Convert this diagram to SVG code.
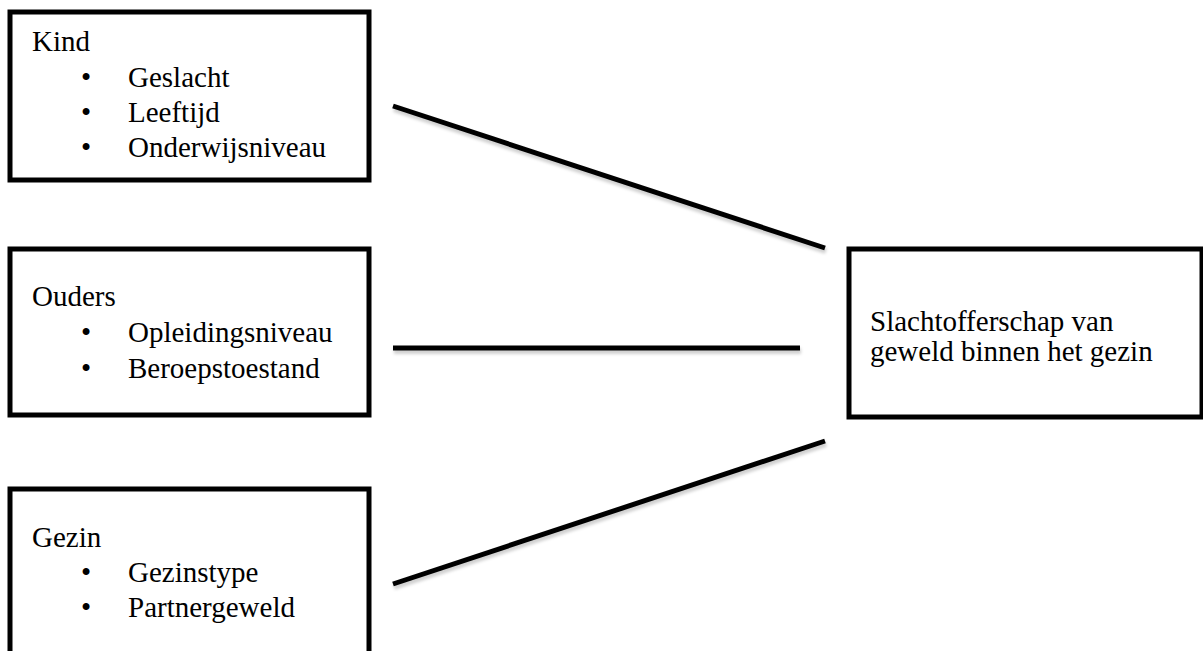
<svg xmlns="http://www.w3.org/2000/svg" width="1203" height="651" viewBox="0 0 1203 651">
<style>
.box{fill:#fff;stroke:#000;stroke-width:5}
.t{font-family:"Liberation Serif","Times New Roman",serif;font-size:29px;fill:#000}
.conn{stroke:#000;stroke-width:5;fill:none}
.shadow{stroke:#000;stroke-opacity:0.18;stroke-width:6;fill:none}
</style>
<defs>
<filter id="blur" x="-10%" y="-50%" width="120%" height="200%"><feGaussianBlur stdDeviation="1.5"/></filter>
</defs>
<rect width="1203" height="651" fill="#fff"/>
<g id="node-kind">
<rect class="box" x="10" y="12" width="359" height="168"/>
<text class="t" x="32" y="51">Kind</text>
<text class="t" x="81" y="87">•</text><text class="t" x="128" y="87">Geslacht</text>
<text class="t" x="81" y="122">•</text><text class="t" x="128" y="122">Leeftijd</text>
<text class="t" x="81" y="157">•</text><text class="t" x="128" y="157">Onderwijsniveau</text>
</g>
<g id="node-ouders">
<rect class="box" x="10" y="249" width="359" height="166"/>
<text class="t" x="32" y="306">Ouders</text>
<text class="t" x="81" y="342">•</text><text class="t" x="128" y="342">Opleidingsniveau</text>
<text class="t" x="81" y="378">•</text><text class="t" x="128" y="378">Beroepstoestand</text>
</g>
<g id="node-gezin">
<rect class="box" x="10" y="489" width="359" height="180"/>
<text class="t" x="32" y="547">Gezin</text>
<text class="t" x="81" y="582">•</text><text class="t" x="128" y="582">Gezinstype</text>
<text class="t" x="81" y="617">•</text><text class="t" x="128" y="617">Partnergeweld</text>
</g>
<g id="node-slachtoffer">
<rect class="box" x="849" y="249" width="353" height="168"/>
<text class="t" x="870" y="331">Slachtofferschap van</text>
<text class="t" x="870" y="361">geweld binnen het gezin</text>
</g>
<g id="connectors">
<g filter="url(#blur)">
<line class="shadow" x1="394" y1="109" x2="826" y2="251"/>
<line class="shadow" x1="394" y1="351" x2="801" y2="351"/>
<line class="shadow" x1="394" y1="587" x2="826" y2="444"/>
</g>
<line class="conn" x1="393" y1="106" x2="825" y2="248"/>
<line class="conn" x1="393" y1="348" x2="800" y2="348"/>
<line class="conn" x1="393" y1="584" x2="825" y2="441"/>
</g>
</svg>
